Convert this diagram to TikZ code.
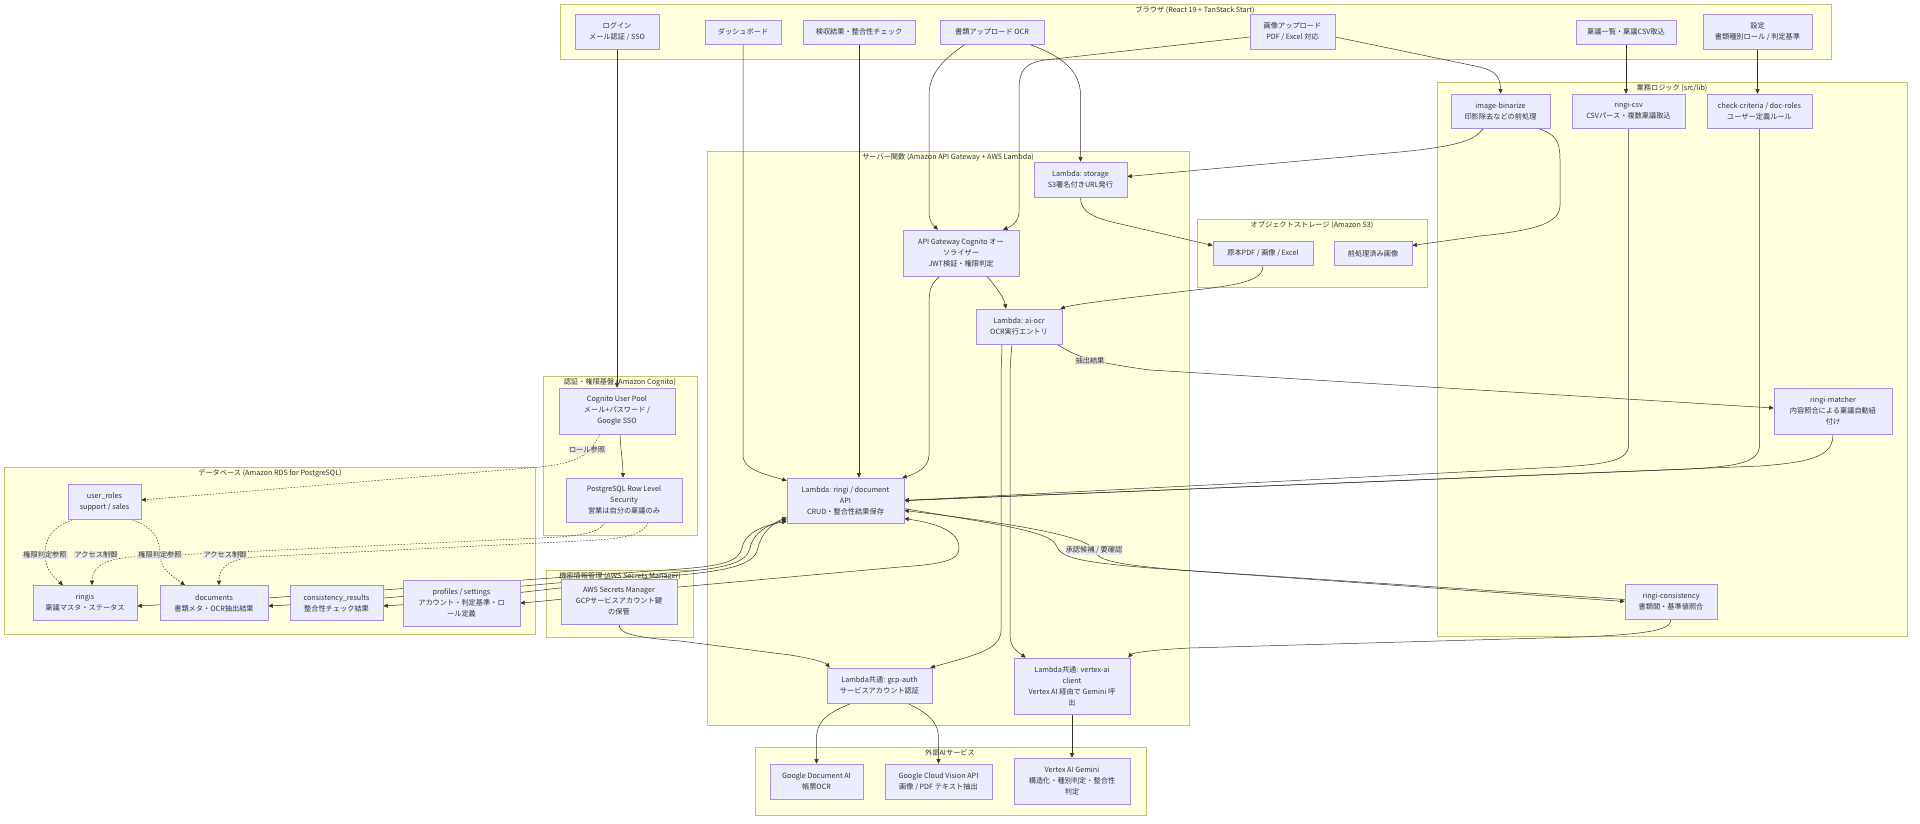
\documentclass[tikz,border=0pt]{standalone}
\usepackage{fontspec}
\setmainfont{Noto Sans CJK JP}
\usetikzlibrary{arrows.meta}
\definecolor{ink}{HTML}{333333}
\definecolor{boxfill}{HTML}{ECECFF}
\definecolor{boxline}{HTML}{9370DB}
\definecolor{grpfill}{HTML}{FFFFDE}
\definecolor{grpline}{HTML}{AAAA33}
\definecolor{lblfill}{HTML}{E8E8E8}
\pgfdeclarelayer{groups}
\pgfdeclarelayer{wires}
\pgfsetlayers{groups,wires,main}
\tikzset{
  box/.style={draw=boxline!80, fill=boxfill, line width=0.6pt, align=center, inner sep=1pt, text=ink, font=\fontsize{7.2}{11}\selectfont},
  grp/.style={draw=grpline!70, fill=grpfill, line width=0.6pt},
  grptitle/.style={text=ink, inner sep=0pt, font=\fontsize{7.2}{9}\selectfont},
  lbl/.style={fill=lblfill, fill opacity=0.8, text opacity=1, text=ink, inner sep=1pt, font=\fontsize{7.2}{9}\selectfont},
  wire/.style={draw=ink, line width=0.5pt, ->},
  dotwire/.style={wire, dash pattern=on 1.5pt off 1.5pt},
}

\begin{document}
\begin{tikzpicture}[x=1pt, y=-1pt, >={Triangle[length=4.5pt, width=4pt]}]
  \def\Ybr{32};   % browser row
  \def\Ylg{111};  % logic row
  \def\Ytb{603};  % table row
  \useasboundingbox (0,0) rectangle (1920,824);

  % browser
  \node[box, minimum width=84, minimum height=35] (login) at (617,\Ybr) {ログイン\\メール認証 / SSO};
  \node[box, minimum width=76, minimum height=24] (dash) at (743,\Ybr) {ダッシュボード};
  \node[box, minimum width=112, minimum height=24] (check) at (859,\Ybr) {検収結果・整合性チェック};
  \node[box, minimum width=104, minimum height=24] (ocr) at (992,\Ybr) {書類アップロード OCR};
  \node[box, minimum width=85, minimum height=35] (imgup) at (1292.5,\Ybr) {画像アップロード\\PDF / Excel 対応};
  \node[box, minimum width=100, minimum height=24] (ringilist) at (1626,\Ybr) {稟議一覧・稟議CSV取込};
  \node[box, minimum width=109, minimum height=35] (settings) at (1757.5,\Ybr) {設定\\書類種別ロール / 判定基準};

  % business logic
  \node[box, minimum width=99, minimum height=34] (binarize) at (1500.5,\Ylg) {image-binarize\\印影除去などの前処理};
  \node[box, minimum width=113, minimum height=34] (csv) at (1628.5,\Ylg) {ringi-csv\\CSVパース・複数稟議取込};
  \node[box, minimum width=105, minimum height=34] (criteria) at (1759.5,\Ylg) {check-criteria / doc-roles\\ユーザー定義ルール};
  \node[box, minimum width=118, minimum height=46] (matcher) at (1833,411) {ringi-matcher\\内容照合による稟議自動紐\\付け};
  \node[box, minimum width=92, minimum height=35] (consistency) at (1671,601.5) {ringi-consistency\\書類間・基準値照合};

  % server functions
  \node[box, minimum width=93, minimum height=35] (storage) at (1080.5,179.5) {Lambda: storage\\S3署名付きURL発行};
  \node[box, minimum width=116, minimum height=46] (apigw) at (961,253) {API Gateway Cognito オー\\ソライザー\\JWT検証・権限判定};
  \node[box, minimum width=86, minimum height=35] (aiocr) at (1019,326.5) {Lambda: ai-ocr\\OCR実行エントリ};
  \node[box, minimum width=117, minimum height=45] (api) at (845.5,500.5) {Lambda: ringi / document\\API\\CRUD・整合性結果保存};
  \node[box, minimum width=105, minimum height=35] (gcpauth) at (879.5,685.5) {Lambda共通: gcp-auth\\サービスアカウント認証};
  \node[box, minimum width=116, minimum height=56] (vertex) at (1072,686) {Lambda共通: vertex-ai\\client\\Vertex AI 経由で Gemini 呼\\出};

  % object storage
  \node[box, minimum width=100, minimum height=24] (orig) at (1263,253.5) {原本PDF / 画像 / Excel};
  \node[box, minimum width=78, minimum height=24] (preproc) at (1373,253.5) {前処理済み画像};

  % auth
  \node[box, minimum width=116, minimum height=46] (cognito) at (617,411) {Cognito User Pool\\メール+パスワード /\\Google SSO};
  \node[box, minimum width=116, minimum height=44] (rls) at (624,500) {PostgreSQL Row Level\\Security\\営業は自分の稟議のみ};

  % database
  \node[box, minimum width=73, minimum height=35] (userroles) at (104.5,502) {user\_roles\\support / sales};
  \node[box, minimum width=104, minimum height=35] (ringis) at (85,\Ytb) {ringis\\稟議マスタ・ステータス};
  \node[box, minimum width=108, minimum height=35] (documents) at (214,\Ytb) {documents\\書類メタ・OCR抽出結果};
  \node[box, minimum width=93, minimum height=35] (consres) at (336.5,\Ytb) {consistency\_results\\整合性チェック結果};
  \node[box, minimum width=117, minimum height=46] (profiles) at (461.5,\Ytb) {profiles / settings\\アカウント・判定基準・ロ\\ール定義};

  % secrets
  \node[box, minimum width=116, minimum height=45] (secrets) at (619,601.5) {AWS Secrets Manager\\GCPサービスアカウント鍵\\の保管};

  % external AI
  \node[box, minimum width=93, minimum height=35] (docai) at (816.5,781.5) {Google Document AI\\帳票OCR};
  \node[box, minimum width=107, minimum height=35] (vision) at (938.5,781.5) {Google Cloud Vision API\\画像 / PDF テキスト抽出};
  \node[box, minimum width=116, minimum height=46] (gemini) at (1072,781) {Vertex AI Gemini\\構造化・種別判定・整合性\\判定};

  \begin{pgfonlayer}{groups}
    \fill[white] (0,0) rectangle (1920,824);
    \draw[grp] (560,4) rectangle (1831,59);
    \node[grptitle] (tbrowser) at (1195,10) {ブラウザ (React 19 + TanStack Start)};
    \draw[grp] (1437,82) rectangle (1907,636);
    \node[grptitle] (tlogic) at (1672,88) {業務ロジック (src/lib)};
    \draw[grp] (707,151) rectangle (1189,725);
    \node[grptitle] (tserver) at (948,157) {サーバー関数 (Amazon API Gateway + AWS Lambda)};
    \draw[grp] (1197,219) rectangle (1427,287);
    \node[grptitle] (ts3) at (1312,225) {オブジェクトストレージ (Amazon S3)};
    \draw[grp] (543,376) rectangle (697,535);
    \node[grptitle] (tauth) at (620,382) {認証・権限基盤 (Amazon Cognito)};
    \draw[grp] (4,467) rectangle (535,634);
    \node[grptitle] (tdb) at (270,473) {データベース (Amazon RDS for PostgreSQL)};
    \draw[grp] (546,570) rectangle (693,637);
    \node[grptitle] (tsecrets) at (620,576) {機密情報管理 (AWS Secrets Manager)};
    \draw[grp] (755,747) rectangle (1146,815);
    \node[grptitle] (text) at (950,753) {外部AIサービス};
  \end{pgfonlayer}

  \begin{pgfonlayer}{wires}
    % browser -> backend
    \draw[wire] (login.south) -- (login.south |- cognito.north);
    \draw[wire] (dash.south) -- (743,455) .. controls (743,470) and (765,474) .. ([yshift=-3]api.north west);
    \draw[wire] (check.south) -- (check.south |- api.north);
    \draw[wire] ([xshift=-27]ocr.south) .. controls (950,55) and (929,70) .. (929,95) -- (929,212) .. controls (929,222) and (934,226) .. ([xshift=-23]apigw.north);
    \draw[wire] ([xshift=37]ocr.south) .. controls (1060,55) and (1080.5,70) .. (1080.5,95) -- (storage.north);
    \draw[wire] ([yshift=-5]imgup.west) -- (1045,60) .. controls (1025,63) and (1019,70) .. (1019,90) -- (1019,212) .. controls (1019,222) and (1010,227) .. ([xshift=42]apigw.north);
    \draw[wire] ([yshift=-5]imgup.east) -- (1475,66) .. controls (1495,70) and (1500.5,76) .. (binarize.north);
    \draw[wire] (ringilist.south) -- (ringilist.south |- csv.north);
    \draw[wire] (settings.south) -- (settings.south |- criteria.north);

    % business logic
    \draw[wire] ([xshift=-17]binarize.south) .. controls (1475,140) and (1460,146) .. (1400,152) -- ([yshift=3]storage.east);
    \draw[wire] ([xshift=37]binarize.south) .. controls (1555,134) and (1560,140) .. (1560,160) -- (1560,205) .. controls (1560,222) and (1540,230) .. (1480,236) -- ([yshift=8]preproc.east);
    \draw[wire] (csv.south) -- (1628.5,445) .. controls (1628.5,460) and (1610,464) .. (1560,467) -- (api.east);
    \draw[wire] (criteria.south) -- (1759.5,445) .. controls (1759.5,462) and (1740,466) .. (1690,469) -- (api.east);
    \draw[wire] (matcher.south) .. controls (1833,455) and (1815,462) .. (1760,466) -- (api.east);
    \draw[wire] ([xshift=38]aiocr.south) .. controls (1075,356) and (1090,362) .. (1150,370) -- ([yshift=3]matcher.west);

    % server functions
    \draw[wire] ([xshift=-21]apigw.south) .. controls (931,283) and (929,290) .. (929,305) -- (929,455) .. controls (929,468) and (915,474) .. ([xshift=-2]api.north east);
    \draw[wire] ([xshift=26]apigw.south) .. controls (997,288) and (1004,298) .. ([xshift=-13]aiocr.north);
    \draw[wire] (storage.south) .. controls (1080.5,212) and (1092,218) .. (1125,225) -- ([yshift=8]orig.west);
    \draw[wire] (orig.south) .. controls (1263,278) and (1250,284) .. (1195,290) .. controls (1110,300) and (1075,304) .. ([xshift=-2]aiocr.north east);
    \draw[wire] ([xshift=-17]aiocr.south) .. controls (1002,355) and (1001,365) .. (1001,380) -- (1001,630) .. controls (1001,650) and (975,655) .. ([xshift=-2]gcpauth.north east);
    \draw[wire] ([xshift=-7]aiocr.south) .. controls (1011,355) and (1010,365) .. (1010,380) -- (1010,635) .. controls (1010,648) and (1018,652) .. ([xshift=12]vertex.north west);
    \draw[wire] (consistency.south) .. controls (1671,630) and (1650,634) .. (1580,637) -- (1190,648) .. controls (1150,650) and (1132,653) .. ([xshift=-2]vertex.north east);
    \draw[wire] ([yshift=-8]api.east) .. controls (980,522) and (1050,530) .. (1056,545) .. controls (1060,558) and (1080,562) .. (1150,568) -- (consistency.west);
    \draw[wire, <-] ([yshift=-10]api.east) .. controls (1000,522) and (1088,535) .. (1094,550) .. controls (1098,560) and (1110,564) .. (1180,570) -- ([yshift=2]consistency.west);
    \draw[wire] (secrets.south) .. controls (619,633) and (630,637) .. (680,641) -- (790,655) .. controls (815,659) and (826,663) .. ([xshift=3]gcpauth.north west);
    \draw[wire] ([xshift=-28]gcpauth.south) .. controls (830,712) and (816.5,720) .. (816.5,738) -- (docai.north);
    \draw[wire] ([xshift=28]gcpauth.south) .. controls (925,712) and (938.5,720) .. (938.5,738) -- (vision.north);
    \draw[wire] (vertex.south) -- (gemini.north);

    % auth -> database
    \draw[wire] ([xshift=3]cognito.south) .. controls (621,455) and (623,462) .. ([xshift=-1]rls.north);
    \draw[dotwire] ([xshift=-17]cognito.south) .. controls (590,452) and (585,462) .. (540,467) -- ([yshift=2]userroles.east);
    \draw[dotwire] ([xshift=-19]rls.south) .. controls (600,532) and (585,536) .. (540,538) -- (130,557) .. controls (100,560) and (92,570) .. ([xshift=7]ringis.north);
    \draw[dotwire] ([xshift=24]rls.south) .. controls (645,533) and (630,539) .. (580,541) -- (255,557) .. controls (228,559) and (219,568) .. ([xshift=5]documents.north);
    \draw[dotwire] ([xshift=-32]userroles.south) .. controls (50,528) and (45,540) .. (45,555) .. controls (45,570) and (55,578) .. ([xshift=-22]ringis.north);
    \draw[dotwire] ([xshift=28]userroles.south) .. controls (155,528) and (160,540) .. (160,555) .. controls (160,570) and (175,578) .. ([xshift=-29]documents.north);

    % api <-> tables
    \draw[wire, <->] ([yshift=-21]api.west) .. controls (765,525) and (745,532) .. (742,548) .. controls (739,562) and (720,566) .. (680,569) .. controls (450,585) and (250,600) .. ([yshift=-3]ringis.east);
    \draw[wire, <->] ([yshift=-19]api.west) .. controls (770,524) and (753,532) .. (750,548) .. controls (747,562) and (728,568) .. (680,572) .. controls (500,588) and (350,602) .. ([yshift=-3]documents.east);
    \draw[wire, <->] ([yshift=-17]api.west) .. controls (775,522) and (761,532) .. (758,548) .. controls (755,563) and (735,570) .. (680,575) .. controls (550,588) and (450,602) .. ([yshift=-3]consres.east);
    \draw[wire, <->] ([yshift=-18]api.east) .. controls (940,524) and (959,532) .. (959,548) .. controls (959,560) and (945,564) .. (900,567) -- (690,586) .. controls (600,594) and (560,600) .. (profiles.east);
  \end{pgfonlayer}

  % edge labels
  \node[lbl] (lextract) at (1090,361) {抽出結果};
  \node[lbl] (lapprove) at (1094,550) {承認候補 / 要確認};
  \node[lbl] (lrole) at (587,450) {ロール参照};
  \node[lbl] (lperm1) at (45,555) {権限判定参照};
  \node[lbl] (lacc1) at (96,555) {アクセス制御};
  \node[lbl] (lperm2) at (160,555) {権限判定参照};
  \node[lbl] (lacc2) at (225,555) {アクセス制御};
\end{tikzpicture}
\end{document}
